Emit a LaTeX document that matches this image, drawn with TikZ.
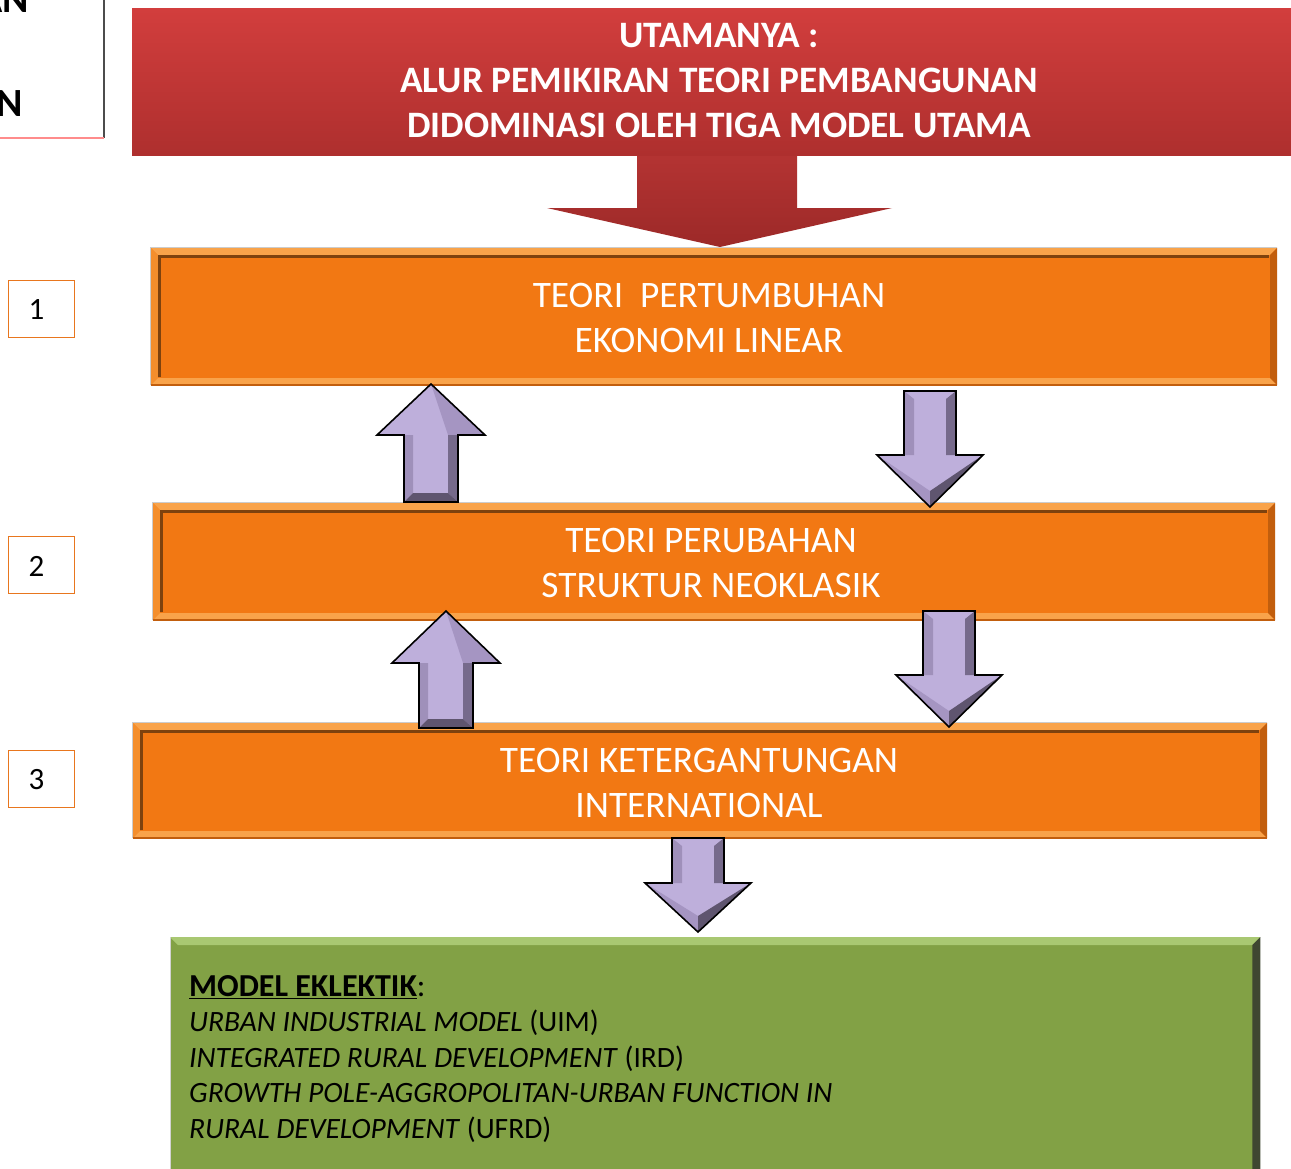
\documentclass[tikz,border=0pt]{standalone}
\usepackage{fontspec}
\setmainfont{Carlito}
\usetikzlibrary{calc}
\definecolor{banTop}{HTML}{D23E3D}
\definecolor{banBot}{HTML}{AE2F2E}
\definecolor{arrTop}{HTML}{B53433}
\definecolor{arrBot}{HTML}{9C2928}
\definecolor{oFill}{HTML}{F27813}
\definecolor{oLight}{HTML}{F9A34A}
\definecolor{oMid}{HTML}{F48E2C}
\definecolor{oDark}{HTML}{C25E0D}
\definecolor{oLine}{HTML}{7E420E}
\definecolor{numLine}{HTML}{E8761E}
\definecolor{gFill}{HTML}{82A145}
\definecolor{gLight}{HTML}{A9C872}
\definecolor{gDark}{HTML}{3F4731}
\definecolor{pLight}{HTML}{BEAFDB}
\definecolor{pMid}{HTML}{A595C2}
\definecolor{pSide}{HTML}{9F90BA}
\definecolor{pDark}{HTML}{766A8B}
\definecolor{pDeep}{HTML}{5F556F}
\newcommand\purpUp[4]{% cx, tip y, head y, base y
  \fill[pLight] (#1,#2) -- ({#1+54},#3) -- ({#1+27},#3) -- ({#1+27},#4) -- ({#1-27},#4) -- ({#1-27},#3) -- ({#1-54},#3) -- cycle;
  \fill[pMid] (#1,#2) -- ({#1+54},#3) -- ({#1+17},#3) -- cycle;
  \fill[pDark] ({#1+17},#3) -- ({#1+27},#3) -- ({#1+27},#4) -- ({#1+17},{#4-9}) -- cycle;
  \fill[pSide] ({#1-27},#3) -- ({#1-18},#3) -- ({#1-18},{#4-9}) -- ({#1-27},#4) -- cycle;
  \fill[pDeep] ({#1-27},#4) -- ({#1-18},{#4-9}) -- ({#1+17},{#4-9}) -- ({#1+27},#4) -- cycle;
  \draw[parrow] (#1,#2) -- ({#1+54},#3) -- ({#1+27},#3) -- ({#1+27},#4) -- ({#1-27},#4) -- ({#1-27},#3) -- ({#1-54},#3) -- cycle;
}
\newcommand\purpDown[4]{% cx, tip y, head y, base y
  \fill[pLight] (#1,#2) -- ({#1+53},#3) -- ({#1+26},#3) -- ({#1+26},#4) -- ({#1-26},#4) -- ({#1-26},#3) -- ({#1-53},#3) -- cycle;
  \fill[pDark] ({#1+16},{#4+8}) -- ({#1+26},#4) -- ({#1+26},#3) -- ({#1+16},#3) -- cycle;
  \fill[pSide] ({#1-26},#4) -- ({#1-16},{#4+8}) -- ({#1-16},#3) -- ({#1-26},#3) -- cycle;
  \fill[pMid] ({#1-53},#3) -- (#1,#2) -- (#1,{#2-16}) -- cycle;
  \fill[pDeep] ({#1+53},#3) -- (#1,#2) -- (#1,{#2-16}) -- cycle;
  \draw[parrow] (#1,#2) -- ({#1+53},#3) -- ({#1+26},#3) -- ({#1+26},#4) -- ({#1-26},#4) -- ({#1-26},#3) -- ({#1-53},#3) -- cycle;
}
\newcommand\oBevel[1]{%
  \fill[oLight] (#1.north west) -- (#1.north east) -- ($(#1.north east)+(-7,7)$) -- ($(#1.north west)+(7,7)$) -- cycle;
  \fill[oMid] (#1.north west) -- ($(#1.north west)+(7,7)$) -- ($(#1.south west)+(7,-7)$) -- (#1.south west) -- cycle;
  \fill[oLight] (#1.south west) -- ($(#1.south west)+(7,-7)$) -- ($(#1.south east)+(-7,-7)$) -- (#1.south east) -- cycle;
  \fill[oDark] (#1.north east) -- ($(#1.north east)+(-7,7)$) -- ($(#1.south east)+(-7,-7)$) -- (#1.south east) -- cycle;
  \draw[oLine, line width=2.5pt] ($(#1.south west)+(8.5,-8)$) -- ($(#1.north west)+(8.5,8.5)$) -- ($(#1.north east)+(-8,8.5)$);
  \draw[oDark, line width=1.5pt] (#1.south west) -- (#1.south east);
  \draw[gray!40, line width=1pt] (#1.south west) -- (#1.north west) -- (#1.north east);
}
\tikzset{
  banner/.style={top color=banTop, bottom color=banBot, inner sep=0pt},
  bantext/.style={text=white, font=\fontsize{37.3}{45}\selectfont\bfseries, align=center, inner sep=0pt},
  obox/.style={fill=oFill, inner sep=0pt},
  otext/.style={text=white, font=\fontsize{37.4}{45}\selectfont, align=center, inner sep=0pt},
  numbox/.style={draw=numLine, line width=1.6pt, fill=white, minimum width=66, minimum height=57, inner sep=0pt},
  numtext/.style={font=\fontsize{31}{34}\selectfont, inner sep=0pt},
  gbox/.style={fill=gFill, inner sep=0pt},
  gtext/.style={font=\fontsize{29.5}{35.5}\selectfont, align=left, inner sep=0pt, text=black},
  parrow/.style={draw=black, line width=1.6pt, line join=miter},
  cornerbox/.style={fill=white, inner sep=0pt},
  cornertext/.style={anchor=base east, font=\fontsize{40}{40}\selectfont\bfseries, inner sep=0pt}
}
\begin{document}
\begin{tikzpicture}[x=1pt,y=-1pt]
\useasboundingbox (0,0) rectangle (1291,1168);
\fill[white] (0,0) rectangle (1291,1168);

% top-left partial box
\begin{scope}
  \clip (0,0) rectangle (105,139);
  \node[cornerbox, minimum width=124, minimum height=158, anchor=south east] (corner) at (104,138) {};
  \node[cornertext] (cornerA) at (29,12) {AN};
  \node[cornertext] (cornerN) at (23,116) {N};
\end{scope}
\draw[black!70, line width=1.5pt] (104,0) -- (104,138);
\draw[red!45, line width=1.5pt] (0,138) -- (104,138);

% red banner arrow
\shade[top color=arrTop, bottom color=arrBot] (637,150) -- (637,208) -- (547,208) -- (720,247) -- (892,208) -- (797,208) -- (797,150) -- cycle;
\node[banner, minimum width=1159, minimum height=147] (ban) at (711.5,81.5) {};
\node[bantext] (banText) at (719,81) {UTAMANYA :\\ALUR PEMIKIRAN TEORI PEMBANGUNAN\\DIDOMINASI OLEH TIGA MODEL UTAMA};

% orange boxes
\node[obox, minimum width=1126, minimum height=137] (t1) at (714,316.5) {};
\oBevel{t1}
\node[otext] (t1txt) at (709,318) {TEORI\ \ PERTUMBUHAN\\EKONOMI LINEAR};

\node[obox, minimum width=1122, minimum height=117] (t2) at (714,561.5) {};
\oBevel{t2}
\node[otext] (t2txt) at (711,563) {TEORI PERUBAHAN\\STRUKTUR NEOKLASIK};

\node[obox, minimum width=1134, minimum height=115] (t3) at (700,780.5) {};
\oBevel{t3}
\node[otext] (t3txt) at (699,783) {TEORI KETERGANTUNGAN\\INTERNATIONAL};

% number boxes
\node[numbox] (n1) at (41.5,309) {};
\node[numtext] (n1t) at (36.5,310) {1};
\node[numbox] (n2) at (41.5,565) {};
\node[numtext] (n2t) at (36.5,566) {2};
\node[numbox] (n3) at (41.5,779) {};
\node[numtext] (n3t) at (36.5,780) {3};

% purple block arrows
\purpUp{431}{384}{435}{502}
\purpDown{930}{507}{455}{391}
\purpUp{446}{611}{663}{728}
\purpDown{949}{727}{675}{611}
\purpDown{698}{932}{883}{838}

% green box
\node[gbox, minimum width=1090, minimum height=280, anchor=north west] (eks) at (170,937) {};
\fill[gLight] (eks.north west) -- (eks.north east) -- ($(eks.north east)+(-8,8)$) -- ($(eks.north west)+(8,8)$) -- cycle;
\fill[gDark] (eks.north east) -- ($(eks.north east)+(-8,8)$) -- ($(eks.south east)+(-8,0)$) -- (eks.south east) -- cycle;
\draw[gray!35, line width=1pt] (eks.south west) -- (eks.north west);
\node[gtext, anchor=north west] (eksTxt) at (189,975) {{\fontsize{32}{35.5}\selectfont\textbf{\underline{MODEL EKLEKTIK}}:}\\
\textit{URBAN INDUSTRIAL MODEL} (UIM)\\
\textit{INTEGRATED RURAL DEVELOPMENT} (IRD)\\
\textit{GROWTH POLE-AGGROPOLITAN-URBAN FUNCTION IN}\\
\textit{RURAL DEVELOPMENT} (UFRD)};
\end{tikzpicture}
\end{document}
